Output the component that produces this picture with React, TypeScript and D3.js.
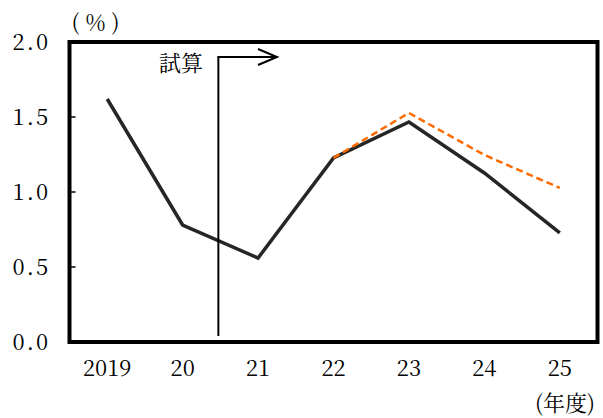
import React from "react";
import * as d3 from "d3";

const categories = ["2019", "20", "21", "22", "23", "24", "25"];
const actual = [1.62, 0.78, 0.56, 1.227, 1.467, 1.127, 0.727];
const estimateCats = ["22", "23", "24", "25"];
const estimate = [1.227, 1.527, 1.247, 1.027];
const yTicks = [0, 0.5, 1.0, 1.5, 2.0];
const yTickLabels = ["0.0", "0.5", "1.0", "1.5", "2.0"];

export default function App() {
  const W = 603, H = 418;
  const left = 69.5, right = 597.5, top = 42, bottom = 342;
  const x = d3.scaleBand<string>().domain(categories).range([left, right]);
  const y = d3.scaleLinear().domain([0, 2]).range([bottom, top]);
  const cx = (c: string) => (x(c) as number) + x.bandwidth() / 2;
  const line = d3.line<[string, number]>().x(d => cx(d[0])).y(d => y(d[1]));
  const actualPts: [string, number][] = categories.map((c, i) => [c, actual[i]]);
  const estPts: [string, number][] = estimateCats.map((c, i) => [c, estimate[i]]);
  const vx = (cx("20") + cx("21")) / 2 - 2;
  const font = { fontFamily: "'Noto Serif CJK JP', serif" } as React.CSSProperties;
  return (
    <svg width={W} height={H} style={{ position: "absolute", left: 0, top: 0, background: "#fff" }}>
      <rect x={left} y={top} width={right - left} height={bottom - top} fill="none" stroke="#000" strokeWidth={4} />
      {yTicks.map((t, i) => (
        <g key={t}>
          <line x1={left} x2={left + 6} y1={y(t)} y2={y(t)} stroke="#000" strokeWidth={1.5} />
          <text x={50} y={y(t)} dy="0.35em" textAnchor="end" style={{ ...font, letterSpacing: "2px" }} fontSize={22}>{yTickLabels[i]}</text>
        </g>
      ))}
      {categories.map(c => (
        <text key={c} x={cx(c)} y={368} dy="0.35em" textAnchor="middle" style={font} fontSize={22}>{c}</text>
      ))}
      <text x={98} y={22} dy="0.35em" textAnchor="middle" style={{ ...font, letterSpacing: "5px" }} fontSize={22}>(％)</text>
      <text x={565} y={403} dy="0.35em" textAnchor="middle" style={font} fontSize={22}>(年度)</text>
      <path d={line(actualPts) as string} fill="none" stroke="#262626" strokeWidth={3.5} strokeLinejoin="miter" />
      <path d={line(estPts) as string} fill="none" stroke="#FF6A00" strokeWidth={2.5} strokeDasharray="7,4" />
      <line x1={vx} x2={vx} y1={336} y2={57} stroke="#000" strokeWidth={2} />
      <line x1={vx - 1} x2={277} y1={57} y2={57} stroke="#000" strokeWidth={2} />
      <polyline points={`258,49 277,57 258,65`} fill="none" stroke="#000" strokeWidth={2} />
      <text x={181} y={63} dy="0.35em" textAnchor="middle" style={font} fontSize={22}>試算</text>
    </svg>
  );
}
